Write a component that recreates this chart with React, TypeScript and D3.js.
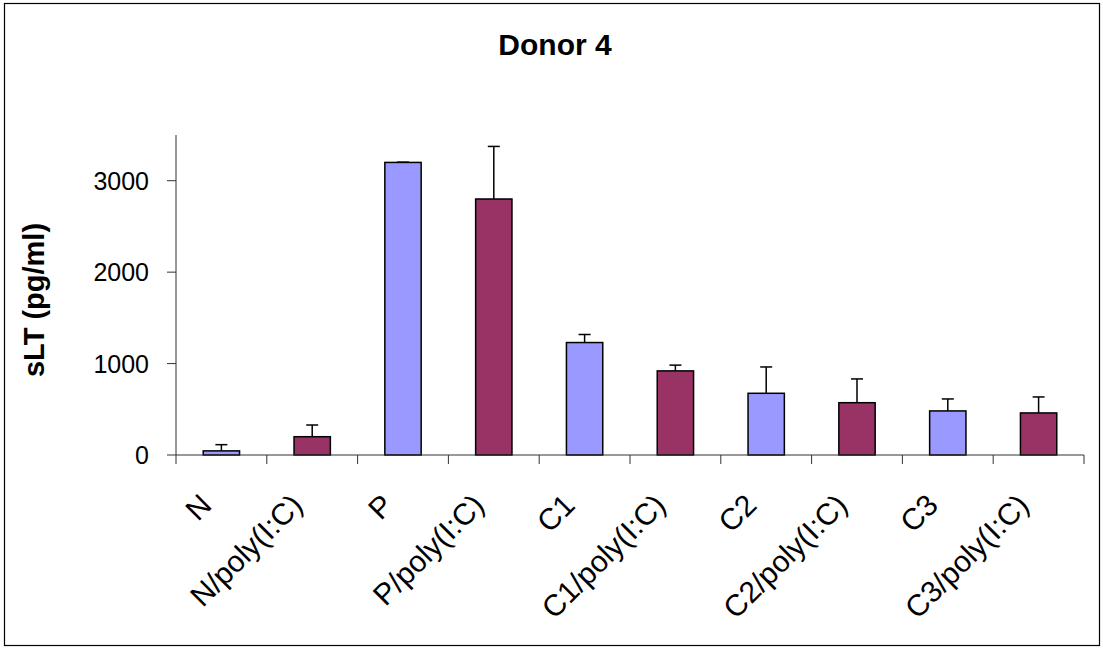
import React from "react";
import * as d3 from "d3";

const categories = ["N", "N/poly(I:C)", "P", "P/poly(I:C)", "C1", "C1/poly(I:C)", "C2", "C2/poly(I:C)", "C3", "C3/poly(I:C)"];
const values = [45, 200, 3200, 2800, 1230, 920, 675, 572, 482, 460];
const errors = [68, 128, 3, 575, 88, 63, 288, 260, 131, 175];
const colors = ["#9999FF", "#993366"];
const yTicks = [0, 1000, 2000, 3000];
const title = "Donor 4";
const yLabel = "sLT (pg/ml)";

export default function App() {
  const W = 1103, H = 648;
  const x0 = 176, x1 = 1084, yTop = 135, yBot = 455;
  const x = d3.scaleBand<string>().domain(categories).range([x0, x1]).paddingInner(0.6).paddingOuter(0.3);
  const band = d3.scaleBand<string>().domain(categories).range([x0, x1]);
  const y = d3.scaleLinear().domain([0, 3500]).range([yBot, yTop]);
  const font = "Liberation Sans, Arial, sans-serif";
  const capW = 10;
  return (
    <div style={{ position: "absolute", left: 0, top: 0 }}>
      <svg width={W} height={H} style={{ display: "block" }} fontFamily={font}>
        <rect x={0} y={0} width={W} height={H} fill="#fff" />
        <rect x={4.5} y={3.5} width={1095} height={642} fill="none" stroke="#000" strokeWidth={1.2} />
        <text x={555} y={55} textAnchor="middle" fontSize={30} fontWeight="bold">{title}</text>
        <text transform={`translate(44,300) rotate(-90)`} textAnchor="middle" fontSize={29} fontWeight="bold">{yLabel}</text>
        {/* bars */}
        {categories.map((c, i) => {
          const bx = x(c)!;
          const bw = x.bandwidth();
          const cx = bx + bw / 2;
          const top = y(values[i]);
          const et = y(values[i] + errors[i]);
          return (
            <g key={c}>
              <line x1={cx} x2={cx} y1={top} y2={et} stroke="#000" strokeWidth={1.5} />
              <line x1={cx - capW / 2 - 1} x2={cx + capW / 2 + 1} y1={et} y2={et} stroke="#000" strokeWidth={1.5} />
              <rect x={bx} y={top} width={bw} height={yBot - top} fill={colors[i % 2]} stroke="#000" strokeWidth={1.5} />
            </g>
          );
        })}
        {/* y axis */}
        <line x1={x0} x2={x0} y1={yTop} y2={yBot} stroke="#333" strokeWidth={1} />
        {yTicks.map((t) => (
          <g key={t}>
            <line x1={x0 - 9} x2={x0} y1={y(t)} y2={y(t)} stroke="#333" strokeWidth={1} />
            <text x={x0 - 27} y={y(t)} dy="0.36em" textAnchor="end" fontSize={25}>{t}</text>
          </g>
        ))}
        {/* x axis */}
        <line x1={x0} x2={x1} y1={yBot} y2={yBot} stroke="#333" strokeWidth={1} />
        {categories.map((c) => (
          <line key={"t" + c} x1={band(c)!} x2={band(c)!} y1={yBot} y2={yBot + 9} stroke="#333" strokeWidth={1} />
        ))}
        <line x1={x1} x2={x1} y1={yBot} y2={yBot + 9} stroke="#333" strokeWidth={1} />
        {categories.map((c) => {
          const cx = band(c)! + band.bandwidth() / 2;
          return (
            <text key={"l" + c} transform={`translate(${cx - 8},${yBot + 52}) rotate(-45)`} textAnchor="end" fontSize={30}>{c}</text>
          );
        })}
      </svg>
    </div>
  );
}
